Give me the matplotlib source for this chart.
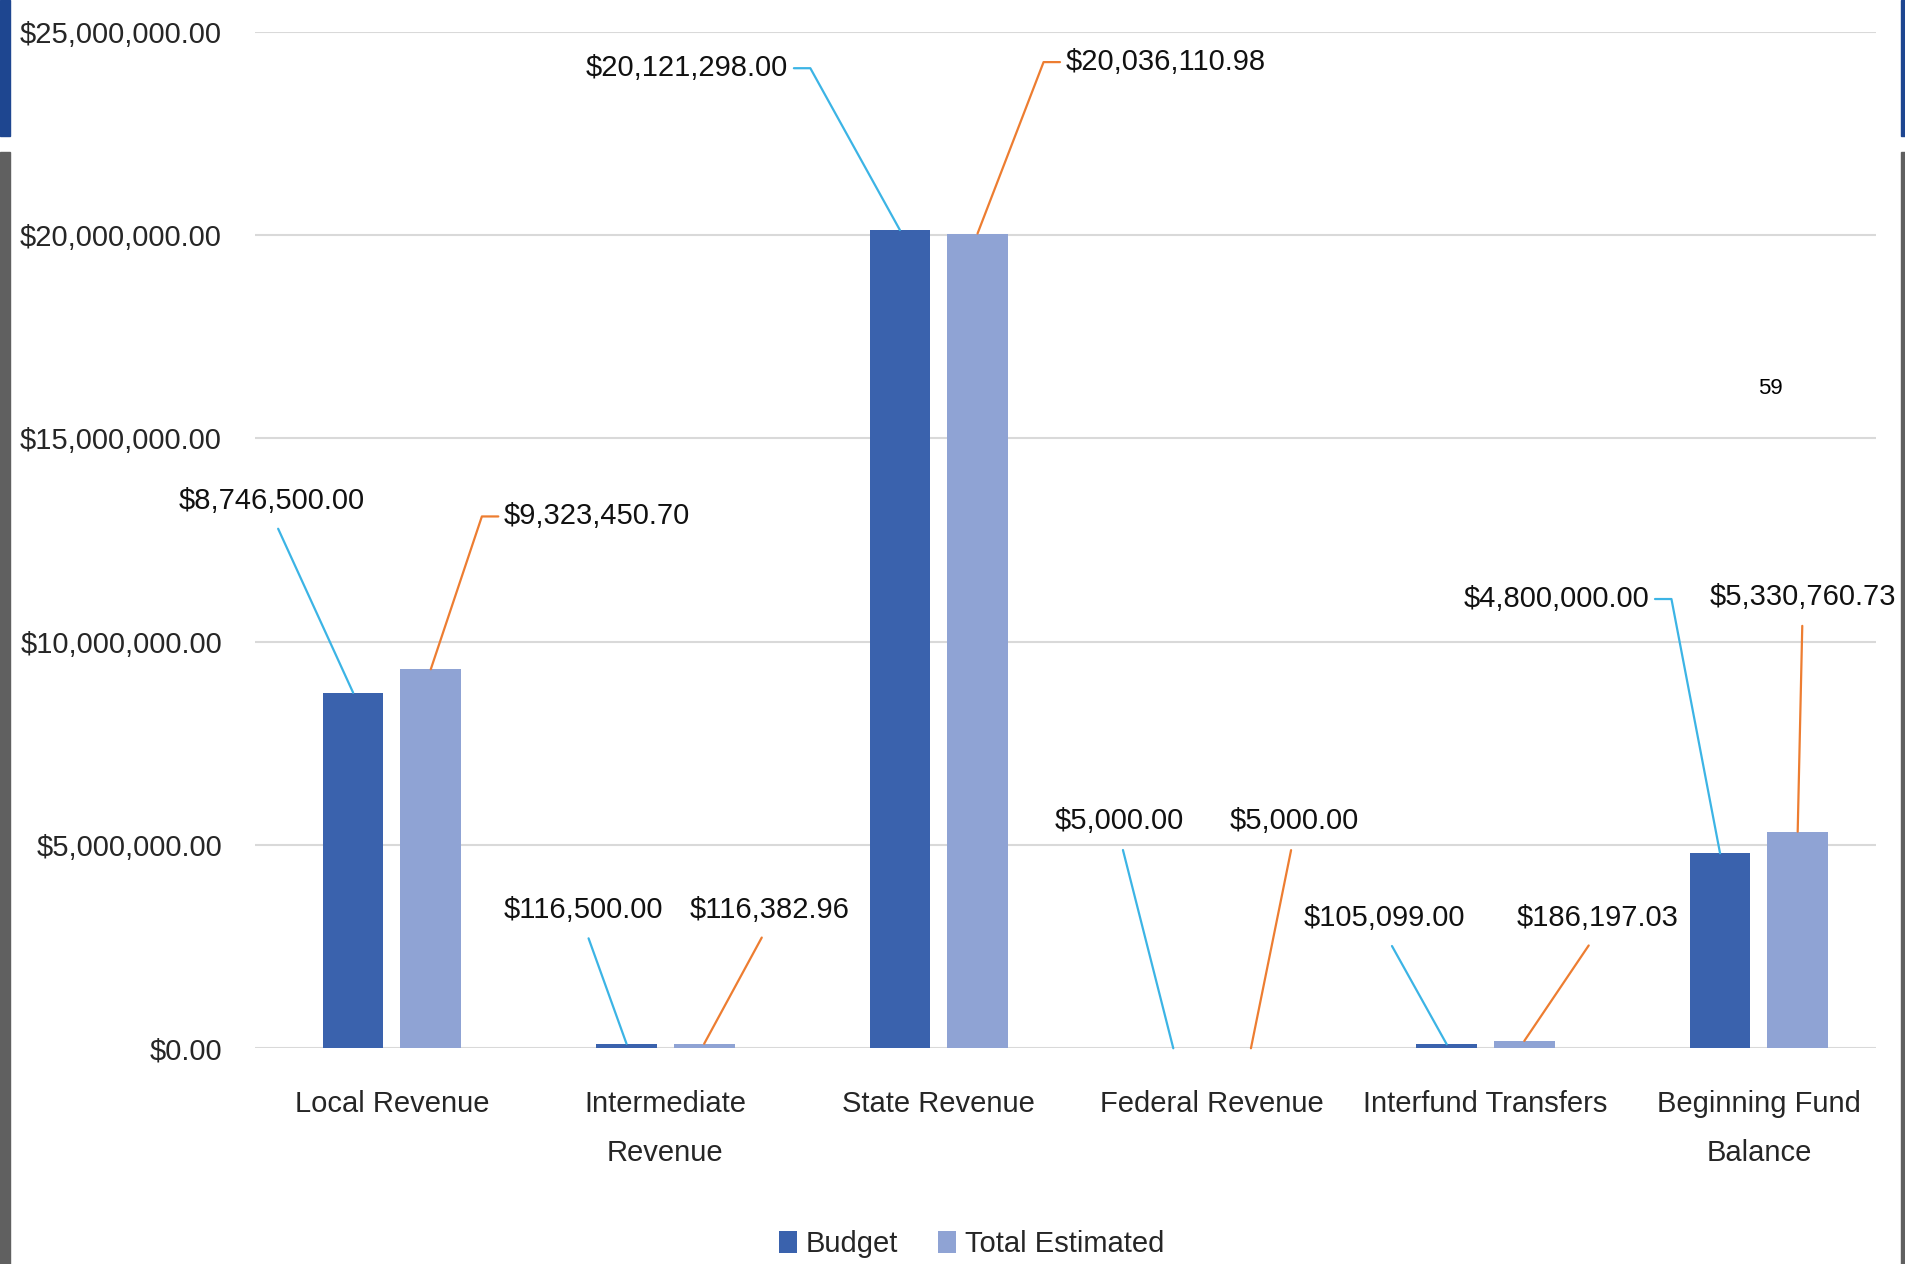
import matplotlib.pyplot as plt
import numpy as np
from matplotlib.patches import Rectangle

plt.rcParams['font.family'] = ['Liberation Sans', 'DejaVu Sans']

# revenue categories and the two series
categories = ['Local Revenue', 'Intermediate\nRevenue', 'State Revenue',
              'Federal Revenue', 'Interfund Transfers', 'Beginning Fund\nBalance']
budget = [8746500.00, 116500.00, 20121298.00, 5000.00, 105099.00, 4800000.00]
total_estimated = [9323450.70, 116382.96, 20036110.98, 5000.00, 186197.03, 5330760.73]
y_ticks = [0, 5000000, 10000000, 15000000, 20000000, 25000000]

# where each value label sits (x, y in data units) and which side the leader leaves from
budget_label_pos = [(-0.44, 13.47e6), (0.70, 3.41e6), (1.08, 24.10e6),
                    (2.66, 5.59e6), (3.63, 3.20e6), (4.26, 11.05e6)]
budget_label_side = ['bottom', 'bottom', 'right', 'bottom', 'bottom', 'right']
total_label_pos = [(0.75, 13.08e6), (1.38, 3.41e6), (2.83, 24.25e6),
                   (3.30, 5.59e6), (4.41, 3.20e6), (5.16, 11.11e6)]
total_label_side = ['left', 'bottom', 'left', 'bottom', 'bottom', 'bottom']

budget_color = '#3A62AD'
total_color = '#8FA3D4'
budget_leader = '#3CB4E5'
total_leader = '#ED7D31'
fs = 21

fig = plt.figure(figsize=(19.05, 12.64), dpi=100)
ax = fig.add_axes([0.134, 0.1705, 0.851, 0.8045])

x = np.arange(len(categories))
w = 0.222
off = 0.142
ax.bar(x - off, budget, w, color=budget_color, label='Budget', zorder=3)
ax.bar(x + off, total_estimated, w, color=total_color, label='Total Estimated', zorder=3)

ax.set_xlim(-0.5, len(categories) - 0.57)
ax.set_ylim(0, 25000000)
ax.set_yticks(y_ticks)
ax.set_yticklabels(['${:,.2f}'.format(v) for v in y_ticks], fontsize=fs, color='#262626')
ax.set_xticks(x)
ax.set_xticklabels(categories, fontsize=fs, color='#262626', linespacing=1.95)
ax.tick_params(axis='y', length=0, pad=24)
ax.tick_params(axis='x', length=0, pad=30)
ax.yaxis.grid(True, color='#D9D9D9', linewidth=1.5, zorder=0)
for s in ax.spines.values():
    s.set_visible(False)


def leader_style(side, color):
    if side == 'bottom':
        return dict(arrowstyle='-', color=color, lw=1.6, relpos=(0.5, 0), shrinkA=9, shrinkB=0)
    if side == 'right':
        return dict(arrowstyle='-', color=color, lw=1.6, relpos=(1, 0.5), shrinkA=2, shrinkB=0,
                    connectionstyle='arc,angleA=0,armA=22,angleB=0,armB=0,rad=0')
    return dict(arrowstyle='-', color=color, lw=1.6, relpos=(0, 0.5), shrinkA=2, shrinkB=0,
                connectionstyle='arc,angleA=180,armA=22,angleB=0,armB=0,rad=0')


for i in range(len(categories)):
    ax.annotate('${:,.2f}'.format(budget[i]), xy=(x[i] - off, budget[i]),
                xytext=budget_label_pos[i], textcoords='data', ha='center', va='center',
                fontsize=fs, color='#111111',
                arrowprops=leader_style(budget_label_side[i], budget_leader), zorder=4)
    ax.annotate('${:,.2f}'.format(total_estimated[i]), xy=(x[i] + off, total_estimated[i]),
                xytext=total_label_pos[i], textcoords='data', ha='center', va='center',
                fontsize=fs, color='#111111',
                arrowprops=leader_style(total_label_side[i], total_leader), zorder=4)

fig.legend(loc='lower center', bbox_to_anchor=(0.51, -0.016), ncol=2, frameon=False,
           fontsize=fs, handlelength=0.6, handleheight=0.8, handletextpad=0.3,
           columnspacing=1.4, labelcolor='#262626')

# slide page number and side strips
fig.text(0.9295, 0.693, '59', fontsize=16, ha='center', va='center')
for fx, fw in [(0, 10), (1901, 4)]:
    fig.patches.append(Rectangle((fx / 1905, 1 - 136 / 1264), fw / 1905, 136 / 1264,
                                 transform=fig.transFigure, color='#1E4690'))
    fig.patches.append(Rectangle((fx / 1905, 0), fw / 1905, 1 - 152 / 1264,
                                 transform=fig.transFigure, color='#606060'))

fig.savefig('out.png', dpi=100)
